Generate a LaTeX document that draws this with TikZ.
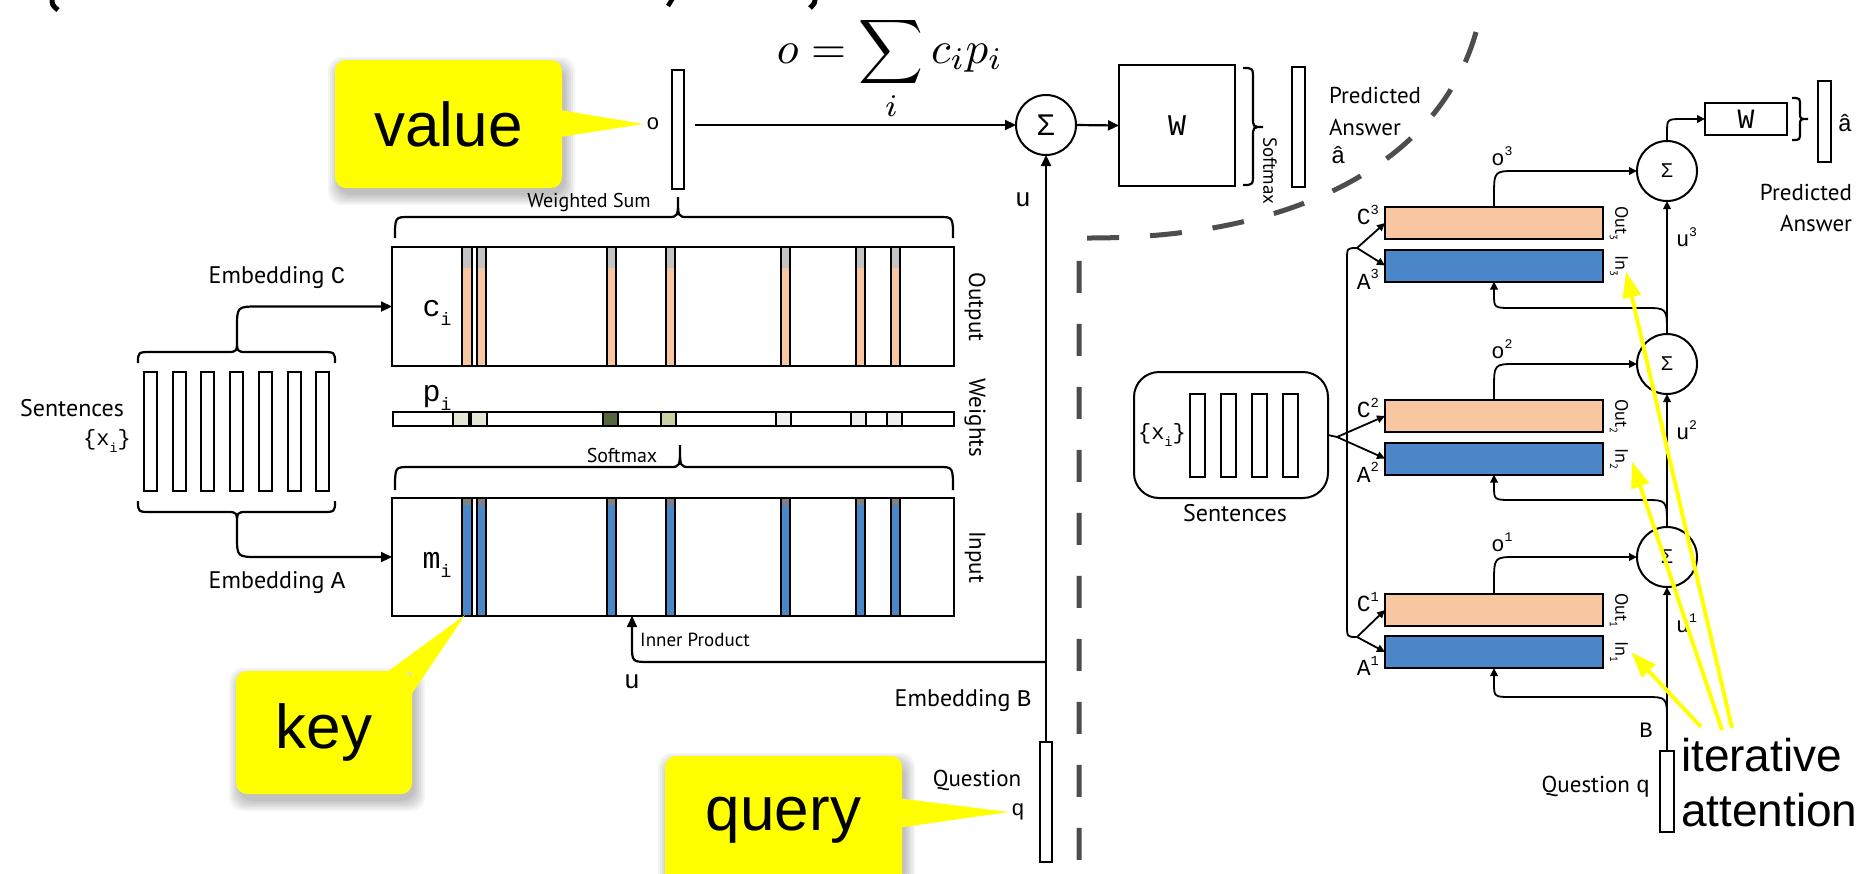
\documentclass[tikz,border=0pt]{standalone}
\usepackage[no-math]{fontspec}
\setmainfont{PT Sans}
\newfontfamily\mono{Liberation Mono}
\newfontfamily\arial{Liberation Sans}
\usepackage{graphicx}
\usetikzlibrary{arrows.meta,calc}
\definecolor{orng}{HTML}{F8C6A0}
\definecolor{blu}{HTML}{4A86C8}
\definecolor{sgray}{HTML}{C4C4C4}
\definecolor{callyel}{HTML}{FFFF00}
\definecolor{dashgray}{HTML}{4D4D4D}
\definecolor{wlight}{HTML}{E4E8D4}
\definecolor{wdark}{HTML}{56653A}
\definecolor{wmid}{HTML}{C8D1A4}
\definecolor{wpale}{HTML}{EFEFEF}
\newcommand{\fs}[1]{\fontsize{#1}{#1}\selectfont}
\newcommand{\msub}[1]{\raisebox{-0.3em}{\scalebox{0.6}{#1}}}
\newcommand{\msup}[1]{\raisebox{0.45em}{\scalebox{0.6}{#1}}}
\newcommand{\softshadow}[4]{\foreach \s in {0,2,...,10}{\fill[black,opacity=0.045,rounded corners=14pt] ($(#1,#2)+(3-\s,7-\s)$) rectangle ($(#3,#4)+(3+\s,7+\s)$);}}
% x1, x2, xtip, ybar, yend, ytip
\newcommand{\hbraceup}[6]{\draw[ln] (#1,#5) .. controls (#1,#4) .. ({#1+14},#4) -- ({#3-10},#4) .. controls (#3,#4) .. (#3,#6) .. controls (#3,#4) .. ({#3+10},#4) -- ({#2-14},#4) .. controls (#2,#4) .. (#2,#5);}
\begin{document}
\begin{tikzpicture}[x=1pt,y=-1pt,
 every node/.style={inner sep=0pt,outer sep=0pt},
 ln/.style={line width=2.2pt},
 arr/.style={ln,-{Triangle[length=11pt,width=10pt]}},
 sarr/.style={line width=1.8pt,-{Triangle[length=8pt,width=7.5pt]}},
 bx/.style={draw,line width=2pt},
 vec/.style={draw,line width=2pt,fill=white},
 sig/.style={draw,circle,line width=2pt,minimum size=60pt,fill=white},
 callbox/.style={fill=callyel,rounded corners=11pt},
 yarr/.style={draw=callyel,line width=4pt,-{Triangle[length=26pt,width=18pt,fill=callyel]}},
]
\useasboundingbox (0,0) rectangle (1866,873);
\clip (0,0) rectangle (1866,873);
\fill[white] (0,0) rectangle (1866,873);

% cut-off fragments at the top
\draw[line width=5pt] (52,-3) .. controls (52,5) .. (58,10);
\draw[line width=4.5pt] (673,-2) -- (668,6);
\draw[line width=5pt] (815,-3) .. controls (815,3) .. (810,8);

% ---------------- left: sentences ----------------
\foreach \k in {0,...,6} \node[vec,minimum width=13pt,minimum height=119pt] (s\k) at ({150.5+28.7*\k},431.5) {};
\node[anchor=east] (lsent) at (124,408) {\fs{24}Sentences};
\node (lxi) at (107,441) {\mono\fs{22}\{x\msub{i}\}};
\hbraceup{138}{335}{237}{352}{363}{338}
\hbraceup{138}{335}{237}{512}{501}{526}
\coordinate (ectip) at (237,338);
\coordinate (eatip) at (237,526);

% stripes
\foreach \a/\b in {462/472,477/486,607/616,666/675,781/790,856/865,891/900}{
 \fill[orng] (\a,247) rectangle (\b,366);
 \fill[sgray] (\a,247) rectangle (\b,268);
 \draw[line width=1.4pt] (\a,247) rectangle (\b,366);
 \fill[blu] (\a,498) rectangle (\b,616);
 \fill[gray] (\a,498) rectangle (\b,505);
 \draw[line width=1.4pt] (\a,498) rectangle (\b,616);
}
\foreach \a/\b/\c in {453/469/wlight,471/487/wlight,603/618/wdark,661/676/wmid,776/791/wpale,851/866/wpale,887/902/wpale}{
 \fill[\c] (\a,412) rectangle (\b,426);
 \draw[line width=1.4pt] (\a,412) rectangle (\b,426);
}
\node[bx,minimum width=562pt,minimum height=119pt] (cbox) at (673,306.5) {};
\node[bx,minimum width=561pt,minimum height=14pt] (wbar) at (673.5,419) {};
\node[bx,minimum width=562pt,minimum height=118pt] (mbox) at (673,557) {};

\draw[arr] (ectip) -- (237,328) .. controls (237,306.5) .. (259,306.5) -- (cbox.west);
\draw[arr] (eatip) -- (237,536) .. controls (237,557) .. (259,557) -- (mbox.west);
\node (lembc) at (277,278) {\fs{24}Embedding {\mono C}};
\node (lemba) at (277,583) {\fs{24}Embedding {\mono A}};

\node (lci) at (437,313) {\mono\fs{30}c\msub{i}};
\node (lpi) at (437,398) {\mono\fs{30}p\msub{i}};
\node (lmi) at (437,565) {\mono\fs{30}m\msub{i}};
\node[rotate=-90] (lout) at (975,307) {\fs{23}Output};
\node[rotate=-90] (lwts) at (975,418) {\fs{23}Weights};
\node[rotate=-90] (linp) at (975,557) {\fs{23}Input};

\hbraceup{395}{953}{678}{217}{238}{197}
\hbraceup{395}{953}{680}{467}{490}{445}
\node (lws) at (589,202) {\fs{20}Weighted Sum};
\node (lsm) at (622,455) {\fs{20}Softmax};

% o vector, formula, sum
\node[vec,minimum width=12pt,minimum height=119pt] (ovec) at (678,129.5) {};
\node (lo) at (653,124) {\mono\fs{22}o};
\node[anchor=base] (formula) at (890,63) {\scalebox{4.5}{$\displaystyle o=\sum_i c_ip_i$}};
\node[sig] (sig) at (1046,125) {\arial\fs{30}Σ};
\draw[arr] ($(ovec.east|-sig.west)+(11,0)$) -- (sig.west);
\node (lu1) at (1023,200) {\mono\fs{26}u};
\node[bx,minimum width=116pt,minimum height=121pt] (wbig) at (1177,125.5) {\mono\fs{30}W};
\draw[arr] (sig.east) -- (wbig.west);
\draw[ln] (1243,68) .. controls (1253,68) .. (1253,80) -- (1253,117) .. controls (1253,127) .. (1263,127) .. controls (1253,127) .. (1253,137) -- (1253,173) .. controls (1253,185) .. (1243,185);
\node[rotate=-90] (lsm2) at (1270,171) {\fs{19}Softmax};
\node[vec,minimum width=13pt,minimum height=120pt] (avec) at (1298.5,127) {};
\node[anchor=west] (lpred) at (1329,95) {\fs{23}Predicted};
\node[anchor=west] (lans) at (1329,127) {\fs{23}Answer};
\node[anchor=west] (lahat) at (1331,155) {\mono\fs{24}â};

% question and u
\node[vec,minimum width=12pt,minimum height=120pt] (qvec) at (1046,802) {};
\draw[arr] (qvec.north) -- (sig.south);
\coordinate (ipj) at (1046,662);
\draw[arr] (ipj) -- (650,662) .. controls (632,662) .. (632,645) -- ($(mbox.south west)+(240,0)$);
\node (lip) at (695,640) {\fs{19}Inner Product};
\node (lu2) at (632,682) {\mono\fs{26}u};
\node (lembb) at (963,701) {\fs{24}Embedding {\mono B}};
\node (lq) at (977,780) {\fs{23}Question};
\node (lqq) at (1018,812) {\mono\fs{22}q};

% dashed separator
\draw[dashgray,line width=5pt,dash pattern=on 32pt off 31pt] (1476,32) .. controls (1440,160) and (1300,238) .. (1090,238) -- (1079,238) -- (1079,880);

% ---------------- right: multi-hop ----------------
\node[draw,line width=2pt,rounded corners=25pt,minimum width=194pt,minimum height=126pt] (sbox) at (1231,435) {};
\foreach \k/\x in {1/1197.5,2/1228.5,3/1259.5,4/1290} \node[vec,minimum width=15pt,minimum height=83pt] (r\k) at (\x,435.5) {};
\node (rxi) at (1162,435) {\mono\fs{22}\{x\msub{i}\}};
\node (rsent) at (1235,513) {\fs{24}Sentences};

\foreach \n/\cy/\ay in {3/223/265.5,2/416/458.5,1/610/652}{
 \node[bx,fill=orng,minimum width=218pt,minimum height=32pt] (C\n) at (1494,\cy) {};
 \node[bx,fill=blu,minimum width=218pt,minimum height=32pt] (A\n) at (1494,\ay) {};
 \node[anchor=east] (lC\n) at ($(C\n.west)+(-6,-8)$) {\mono\fs{23}C\msup{\n}};
 \node[anchor=east] (lA\n) at ($(A\n.west)+(-6,14)$) {\mono\fs{23}A\msup{\n}};
 \node[rotate=-90] (lout\n) at ($(C\n.east)+(16,0)$) {\fs{18}Out\msub{\n}};
 \node[rotate=-90] (lin\n) at ($(A\n.east)+(16,0)$) {\fs{18}In\msub{\n}};
}
\node[sig] (S3) at (1667,171) {\arial\fs{20}Σ};
\node[sig] (S2) at (1667,364) {\arial\fs{20}Σ};
\node[sig] (S1) at (1667,557) {\arial\fs{20}Σ};
\node[vec,minimum width=14pt,minimum height=81pt] (qv) at (1667,791.5) {};

\draw[sarr] (qv.north) -- (S1.south);
\draw[sarr] (S1.north) -- (S2.south);
\draw[sarr] (S2.north) -- (S3.south);
\foreach \n in {1,2,3}{
 \draw[sarr] (C\n.north) -- ($(C\n.north)+(0,-10)$) .. controls (C\n.north |- S\n.west) .. ($(C\n.north|-S\n.west)+(22,0)$) -- (S\n.west);
 \node (lo\n) at ($(C\n.north|-S\n.west)+(8,-15)$) {\mono\fs{22}o\msup{\n}};
}
\draw[sarr] (S2.north) .. controls ($(S2.north)+(0,-26)$) .. ($(S2.north)+(-22,-26)$) -- ($(A3.south|-S2.north)+(18,-26)$) .. controls ($(A3.south|-S2.north)+(0,-26)$) .. ($(A3.south|-S2.north)+(0,-40)$) -- (A3.south);
\draw[sarr] (S1.north) .. controls ($(S1.north)+(0,-27)$) .. ($(S1.north)+(-22,-27)$) -- ($(A2.south|-S1.north)+(18,-27)$) .. controls ($(A2.south|-S1.north)+(0,-27)$) .. ($(A2.south|-S1.north)+(0,-41)$) -- (A2.south);
\coordinate (qb) at ($(qv.north)+(0,-29)$);
\draw[sarr] (qb) .. controls ($(qb)+(0,-25)$) .. ($(qb)+(-22,-25)$) -- ($(A1.south|-qb)+(18,-25)$) .. controls ($(A1.south|-qb)+(0,-25)$) .. ($(A1.south|-qb)+(0,-39)$) -- (A1.south);

\node[anchor=west] (lu3) at (1676,237) {\mono\fs{22}u\msup{3}};
\node[anchor=west] (lu2r) at (1676,430) {\mono\fs{22}u\msup{2}};
\node[anchor=west] (lu1r) at (1676,623) {\mono\fs{22}u\msup{1}};
\node (lB) at (1646,730) {\mono\fs{22}B};
\node[anchor=east] (lqr) at (1650,787) {\fs{23}Question {\mono q}};

% splits
\coordinate (sp3) at (1357,248);
\coordinate (sp2) at (1337,437);
\coordinate (sp1) at (1357,637);
\draw[line width=1.8pt] (sp3) .. controls (1347,248) .. (1347,260) -- (1347,625) .. controls (1347,637) .. (sp1);
\draw[line width=1.8pt] (sbox.east) -- (sp2);
\draw[sarr] (sp3) -- (C3.west);
\draw[sarr] (sp3) -- (A3.west);
\draw[sarr] (sp2) -- (C2.west);
\draw[sarr] (sp2) -- (A2.west);
\draw[sarr] (sp1) -- (C1.west);
\draw[sarr] (sp1) -- (A1.west);

% top right answer
\node[bx,minimum width=82pt,minimum height=32pt] (wsm) at (1746,119) {\mono\fs{28}W};
\draw[sarr] (S3.north) -- ($(S3.north)+(0,-8)$) .. controls (S3.north |- wsm.west) .. ($(S3.north|-wsm.west)+(16,0)$) -- (wsm.west);
\draw[ln] (1792,98) .. controls (1800,98) .. (1800,106) -- (1800,113) .. controls (1800,119) .. (1808,119) .. controls (1800,119) .. (1800,125) -- (1800,132) .. controls (1800,140) .. (1792,140);
\node[vec,minimum width=13pt,minimum height=81pt] (ahv) at (1824.5,121.5) {};
\node (lahr) at (1845,123) {\mono\fs{24}â};
\node[anchor=east] (rpred) at (1852,192) {\fs{23}Predicted};
\node[anchor=east] (rans) at (1852,223) {\fs{23}Answer};

% ---------------- annotations ----------------
\node[anchor=west] (iter) at (1681,755) {\arial\fs{46}iterative};
\node[anchor=west] (attn) at (1681,810) {\arial\fs{46}attention};
\coordinate (y1s) at (1701,727);
\coordinate (y2s) at (1722,730);
\coordinate (y3s) at (1732,728);
\draw[yarr] (y1s) -- ($(lin1)+(12,0)$);
\draw[yarr] (y2s) -- ($(lin2)+(13,3)$);
\draw[yarr] (y3s) -- ($(lin3)+(7,6)$);

% value callout
\softshadow{335}{60}{562}{188}
\node[callbox,minimum width=227pt,minimum height=128pt] (valbox) at (448.5,124) {\arial\fs{62}value};
\coordinate (valtip) at (643,124);
\fill[callyel] ($(valbox.east)+(-2,-14)$) -- (valtip) -- ($(valbox.east)+(-2,13)$) -- cycle;

% key callout
\softshadow{236}{671}{412}{794}
\node[callbox,minimum width=176pt,minimum height=123pt] (keybox) at (324,732.5) {\arial\fs{62}key};
\coordinate (keytip) at (465,615);
\fill[callyel] ($(keybox.north east)+(-25,1)$) -- (keytip) -- ($(keybox.north east)+(-1,24)$) -- ($(keybox.north east)+(-1,1)$) -- cycle;

% query callout
\softshadow{665}{756}{902}{885}
\node[callbox,minimum width=237pt,minimum height=129pt] (qbox) at (783.5,820.5) {\arial\fs{62}query};
\coordinate (qtip) at (1009,812);
\fill[callyel] ($(qbox.east)+(-2,-22)$) -- (qtip) -- ($(qbox.east)+(-2,7)$) -- cycle;
\end{tikzpicture}
\end{document}
